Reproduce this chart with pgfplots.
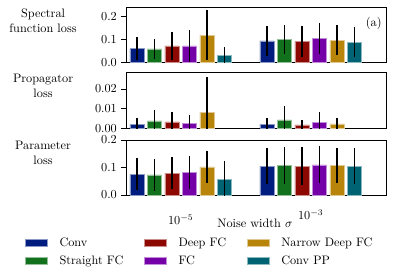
\documentclass[border=0pt]{standalone}
\usepackage{pgfplots}
\pgfplotsset{compat=1.18}
\definecolor{cConv}{HTML}{001C7F}
\definecolor{cSFC}{HTML}{12711C}
\definecolor{cDFC}{HTML}{8C0800}
\definecolor{cFC}{HTML}{7600A8}
\definecolor{cNDFC}{HTML}{B8850A}
\definecolor{cPP}{HTML}{006374}
\pgfplotsset{
  mybar/.style={ybar, bar width=0.108, bar shift=0pt, fill=#1, draw=#1!45!white, line width=0.4pt,
    legend image code/.code={\fill[##1] (0pt,-2.9pt) rectangle (18pt,2.9pt);},
    error bars/.cd, y dir=both, y explicit, error mark=none,
    error bar style={black, line width=1.1pt, solid}},
  panel/.style={scale only axis, width=212.2pt, anchor=south west,
    xmin=-0.421, xmax=1.579, ymin=0,
    tick align=outside, major tick length=4pt, ytick pos=left,
    axis line style={line width=0.7pt}, ytick style={line width=0.7pt, black},
    scaled y ticks=false,
    ylabel style={rotate=-90, align=center, at={(axis description cs:-0.319,0.76)}, anchor=center}},
}
\begin{document}
\begin{tikzpicture}
% Panel 1
\begin{axis}[panel, at={(102.86pt,-50.86pt)}, height=44.9pt, ymax=0.242,
  ytick={0,0.1,0.2}, yticklabel style={/pgf/number format/.cd, fixed, fixed zerofill, precision=1},
  xtick=\empty, ylabel={Spectral\\function loss}]
\addplot[mybar=cConv] coordinates {(-0.3365,0.060) +- (0,0.050) (0.6635,0.094) +- (0,0.066)};
\addplot[mybar=cSFC] coordinates {(-0.2019,0.059) +- (0,0.043) (0.7981,0.101) +- (0,0.063)};
\addplot[mybar=cDFC] coordinates {(-0.0673,0.072) +- (0,0.060) (0.9327,0.092) +- (0,0.067)};
\addplot[mybar=cFC] coordinates {(0.0673,0.072) +- (0,0.069) (1.0673,0.104) +- (0,0.069)};
\addplot[mybar=cNDFC] coordinates {(0.2019,0.120) +- (0,0.110) (1.2019,0.097) +- (0,0.066)};
\addplot[mybar=cPP] coordinates {(0.3365,0.029) +- (0,0.037) (1.3365,0.089) +- (0,0.067)};
\node at (rel axis cs:0.953,0.70) {(a)};
\end{axis}
% Panel 2
\begin{axis}[panel, at={(102.86pt,-105.06pt)}, height=45.7pt, ymax=0.0282,
  ytick={0,0.01,0.02}, yticklabel style={/pgf/number format/.cd, fixed, fixed zerofill, precision=2},
  xtick=\empty, ylabel={Propagator\\loss}]
\addplot[mybar=cConv] coordinates {(-0.3365,0.0020) +- (0,0.0032) (0.6635,0.0022) +- (0,0.0032)};
\addplot[mybar=cSFC] coordinates {(-0.2019,0.0040) +- (0,0.0056) (0.7981,0.0044) +- (0,0.0070)};
\addplot[mybar=cDFC] coordinates {(-0.0673,0.0035) +- (0,0.0050) (0.9327,0.0019) +- (0,0.0025)};
\addplot[mybar=cFC] coordinates {(0.0673,0.0027) +- (0,0.0040) (1.0673,0.0032) +- (0,0.0052)};
\addplot[mybar=cNDFC] coordinates {(0.2019,0.0083) +- (0,0.0177) (1.2019,0.0024) +- (0,0.0031)};
\end{axis}
% Panel 3
\begin{axis}[panel, at={(102.86pt,-159.18pt)}, height=44.9pt, ymax=0.2,
  ytick={0,0.1,0.2}, yticklabel style={/pgf/number format/.cd, fixed, fixed zerofill, precision=1},
  xtick={0,1}, xticklabels={$10^{-5}$,\raisebox{4.1pt}{$10^{-3}$}},
  xtick style={draw=none}, xticklabel style={anchor=base, yshift=-20.4pt},
  xlabel={Noise width $\sigma$}, xlabel style={at={(axis description cs:0.496,-0.515)}, anchor=center},
  ylabel={Parameter\\loss},
  legend columns=3,
  legend style={at={(axis description cs:0.285,-1.036)}, anchor=center, draw=none, fill=none,
    inner sep=0pt, row sep=2.4pt,
    cells={inner sep=0pt, text height=7pt, text depth=2pt, anchor=west},
    /tikz/every odd column/.append style={column sep=7.6pt},
    /tikz/every even column/.append style={column sep=15pt}}]
\addplot[mybar=cConv] coordinates {(-0.3365,0.076) +- (0,0.057) (0.6635,0.105) +- (0,0.066)};
\addlegendentry{Conv}
\addplot[mybar=cDFC] coordinates {(-0.0673,0.080) +- (0,0.058) (0.9327,0.105) +- (0,0.068)};
\addlegendentry{Deep FC}
\addplot[mybar=cNDFC] coordinates {(0.2019,0.102) +- (0,0.059) (1.2019,0.107) +- (0,0.065)};
\addlegendentry{Narrow Deep FC}
\addplot[mybar=cSFC] coordinates {(-0.2019,0.073) +- (0,0.057) (0.7981,0.108) +- (0,0.067)};
\addlegendentry{Straight FC}
\addplot[mybar=cFC] coordinates {(0.0673,0.082) +- (0,0.060) (1.0673,0.110) +- (0,0.068)};
\addlegendentry{FC}
\addplot[mybar=cPP] coordinates {(0.3365,0.058) +- (0,0.066) (1.3365,0.105) +- (0,0.066)};
\addlegendentry{Conv PP}
\end{axis}
\pgfresetboundingbox
\useasboundingbox (0,0) rectangle (325.7pt,-223.7pt);
\end{tikzpicture}
\end{document}
